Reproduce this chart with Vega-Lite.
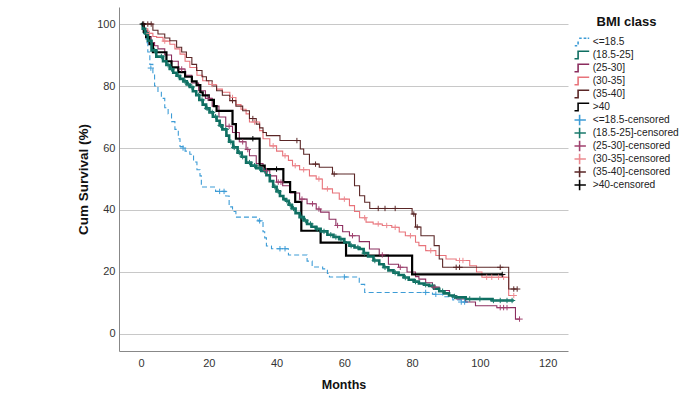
{
"$schema":"https://vega.github.io/schema/vega-lite/v6.json",
"width":449,"height":344,
"autosize":{"type":"none"},
"padding":{"left":119,"top":7,"right":122,"bottom":45},
"background":"white",
"config":{"view":{"stroke":null},"font":"Liberation Sans"},
"resolve":{"legend":{"color":"independent","shape":"independent"}},
"datasets":{
"lines":[
{"g":"<=18.5","m":0,"s":100},{"g":"<=18.5","m":0.8,"s":97},{"g":"<=18.5","m":1.5,"s":94},{"g":"<=18.5","m":2,"s":91},{"g":"<=18.5","m":2.6,"s":87},{"g":"<=18.5","m":3.5,"s":84},{"g":"<=18.5","m":4,"s":80},{"g":"<=18.5","m":5,"s":78},{"g":"<=18.5","m":6,"s":76},{"g":"<=18.5","m":7,"s":73},{"g":"<=18.5","m":8,"s":71},{"g":"<=18.5","m":9,"s":68.5},{"g":"<=18.5","m":10,"s":66},{"g":"<=18.5","m":11,"s":63},{"g":"<=18.5","m":11.5,"s":60.5},{"g":"<=18.5","m":13,"s":59},{"g":"<=18.5","m":14.4,"s":58},{"g":"<=18.5","m":15.5,"s":55.5},{"g":"<=18.5","m":16.5,"s":53},{"g":"<=18.5","m":17.4,"s":51},{"g":"<=18.5","m":17.8,"s":47.4},{"g":"<=18.5","m":22,"s":46},{"g":"<=18.5","m":25,"s":44.5},{"g":"<=18.5","m":26,"s":41},{"g":"<=18.5","m":27,"s":39.5},{"g":"<=18.5","m":28,"s":37.7},{"g":"<=18.5","m":34.5,"s":36.5},{"g":"<=18.5","m":36,"s":33},{"g":"<=18.5","m":36.5,"s":31},{"g":"<=18.5","m":37,"s":28.4},{"g":"<=18.5","m":38.5,"s":27.5},{"g":"<=18.5","m":43.5,"s":25.5},{"g":"<=18.5","m":49,"s":23.5},{"g":"<=18.5","m":50.5,"s":21.6},{"g":"<=18.5","m":53.6,"s":21},{"g":"<=18.5","m":55,"s":19.5},{"g":"<=18.5","m":55.6,"s":18.4},{"g":"<=18.5","m":64.4,"s":16},{"g":"<=18.5","m":66,"s":13.4},{"g":"<=18.5","m":86,"s":12.8},{"g":"<=18.5","m":89,"s":12},{"g":"<=18.5","m":92,"s":11},{"g":"<=18.5","m":94.5,"s":10.3},{"g":"<=18.5","m":97,"s":10.3},
{"g":"(18.5-25]","m":0,"s":100},{"g":"(18.5-25]","m":0.5,"s":98.5},{"g":"(18.5-25]","m":1.2,"s":97},{"g":"(18.5-25]","m":2,"s":94.6},{"g":"(18.5-25]","m":3.1,"s":91.5},{"g":"(18.5-25]","m":4.5,"s":89.5},{"g":"(18.5-25]","m":6.5,"s":88},{"g":"(18.5-25]","m":7.5,"s":86.8},{"g":"(18.5-25]","m":8.5,"s":85.5},{"g":"(18.5-25]","m":9.5,"s":84.3},{"g":"(18.5-25]","m":10.5,"s":83.3},{"g":"(18.5-25]","m":11.5,"s":82.3},{"g":"(18.5-25]","m":12.5,"s":81.5},{"g":"(18.5-25]","m":13.5,"s":80.5},{"g":"(18.5-25]","m":14.4,"s":79.7},{"g":"(18.5-25]","m":15.3,"s":78.3},{"g":"(18.5-25]","m":16.3,"s":77},{"g":"(18.5-25]","m":17.2,"s":75.5},{"g":"(18.5-25]","m":18.2,"s":74},{"g":"(18.5-25]","m":19.2,"s":72.8},{"g":"(18.5-25]","m":20.2,"s":71.5},{"g":"(18.5-25]","m":21.2,"s":70.1},{"g":"(18.5-25]","m":22.3,"s":68.8},{"g":"(18.5-25]","m":23.2,"s":67.3},{"g":"(18.5-25]","m":24,"s":66},{"g":"(18.5-25]","m":25.2,"s":64},{"g":"(18.5-25]","m":26,"s":62},{"g":"(18.5-25]","m":27.2,"s":60.2},{"g":"(18.5-25]","m":28.5,"s":58.5},{"g":"(18.5-25]","m":29.7,"s":57.2},{"g":"(18.5-25]","m":31,"s":55.3},{"g":"(18.5-25]","m":32.5,"s":54.3},{"g":"(18.5-25]","m":34,"s":53.5},{"g":"(18.5-25]","m":35.5,"s":52.6},{"g":"(18.5-25]","m":37,"s":51.2},{"g":"(18.5-25]","m":38,"s":49.3},{"g":"(18.5-25]","m":39,"s":47.5},{"g":"(18.5-25]","m":40,"s":46},{"g":"(18.5-25]","m":41,"s":44.5},{"g":"(18.5-25]","m":42,"s":43.5},{"g":"(18.5-25]","m":42.8,"s":43},{"g":"(18.5-25]","m":43.6,"s":41.7},{"g":"(18.5-25]","m":44.5,"s":40.5},{"g":"(18.5-25]","m":45.6,"s":39},{"g":"(18.5-25]","m":46.8,"s":37.7},{"g":"(18.5-25]","m":48,"s":36.6},{"g":"(18.5-25]","m":49,"s":35.5},{"g":"(18.5-25]","m":50.3,"s":34.6},{"g":"(18.5-25]","m":51.7,"s":33.9},{"g":"(18.5-25]","m":53,"s":33.1},{"g":"(18.5-25]","m":55,"s":32},{"g":"(18.5-25]","m":56.8,"s":31.3},{"g":"(18.5-25]","m":58.5,"s":30.6},{"g":"(18.5-25]","m":60,"s":29.5},{"g":"(18.5-25]","m":61.5,"s":28.5},{"g":"(18.5-25]","m":63,"s":27.9},{"g":"(18.5-25]","m":64.4,"s":27.4},{"g":"(18.5-25]","m":65.7,"s":26.1},{"g":"(18.5-25]","m":67,"s":25},{"g":"(18.5-25]","m":68.6,"s":23.7},{"g":"(18.5-25]","m":70.3,"s":22.5},{"g":"(18.5-25]","m":71.6,"s":21.5},{"g":"(18.5-25]","m":73,"s":20.5},{"g":"(18.5-25]","m":74.5,"s":19.8},{"g":"(18.5-25]","m":76,"s":19},{"g":"(18.5-25]","m":77.5,"s":18.2},{"g":"(18.5-25]","m":79,"s":17.5},{"g":"(18.5-25]","m":80.5,"s":16.9},{"g":"(18.5-25]","m":82,"s":16.3},{"g":"(18.5-25]","m":83.5,"s":15.9},{"g":"(18.5-25]","m":85,"s":15.5},{"g":"(18.5-25]","m":86.5,"s":14.6},{"g":"(18.5-25]","m":88,"s":13.8},{"g":"(18.5-25]","m":89.5,"s":13.1},{"g":"(18.5-25]","m":90.9,"s":12.4},{"g":"(18.5-25]","m":92,"s":12.1},{"g":"(18.5-25]","m":93,"s":11.8},{"g":"(18.5-25]","m":95.8,"s":11.3},{"g":"(18.5-25]","m":103.5,"s":10.8},{"g":"(18.5-25]","m":110,"s":10.8},
{"g":"(25-30]","m":0,"s":100},{"g":"(25-30]","m":1,"s":98},{"g":"(25-30]","m":2,"s":96},{"g":"(25-30]","m":3,"s":94},{"g":"(25-30]","m":4,"s":93},{"g":"(25-30]","m":5,"s":92},{"g":"(25-30]","m":7,"s":90},{"g":"(25-30]","m":9,"s":88},{"g":"(25-30]","m":11,"s":85.5},{"g":"(25-30]","m":13,"s":83.5},{"g":"(25-30]","m":15,"s":81},{"g":"(25-30]","m":17,"s":78.5},{"g":"(25-30]","m":19,"s":76},{"g":"(25-30]","m":21,"s":73.5},{"g":"(25-30]","m":23,"s":70},{"g":"(25-30]","m":25,"s":67},{"g":"(25-30]","m":27,"s":65},{"g":"(25-30]","m":29,"s":62},{"g":"(25-30]","m":31,"s":59.5},{"g":"(25-30]","m":32,"s":57.5},{"g":"(25-30]","m":34,"s":55},{"g":"(25-30]","m":36,"s":52.7},{"g":"(25-30]","m":38,"s":51},{"g":"(25-30]","m":40,"s":49},{"g":"(25-30]","m":41.8,"s":47.8},{"g":"(25-30]","m":44,"s":45.5},{"g":"(25-30]","m":46.8,"s":43.5},{"g":"(25-30]","m":49,"s":42},{"g":"(25-30]","m":51.7,"s":40.3},{"g":"(25-30]","m":53,"s":39.3},{"g":"(25-30]","m":55.5,"s":37},{"g":"(25-30]","m":57.5,"s":35},{"g":"(25-30]","m":59.5,"s":33},{"g":"(25-30]","m":61.5,"s":31.7},{"g":"(25-30]","m":64.4,"s":29.8},{"g":"(25-30]","m":67.4,"s":27.4},{"g":"(25-30]","m":70.3,"s":25.5},{"g":"(25-30]","m":73,"s":22.5},{"g":"(25-30]","m":76,"s":21.5},{"g":"(25-30]","m":78.5,"s":20},{"g":"(25-30]","m":81,"s":18.5},{"g":"(25-30]","m":82,"s":17.7},{"g":"(25-30]","m":84,"s":16.5},{"g":"(25-30]","m":86,"s":15.1},{"g":"(25-30]","m":88,"s":14},{"g":"(25-30]","m":91,"s":12.4},{"g":"(25-30]","m":93,"s":11.3},{"g":"(25-30]","m":95.8,"s":10.3},{"g":"(25-30]","m":98.7,"s":9.1},{"g":"(25-30]","m":105,"s":8.5},{"g":"(25-30]","m":110.5,"s":4.8},{"g":"(25-30]","m":111.7,"s":4.8},
{"g":"(30-35]","m":0,"s":100},{"g":"(30-35]","m":1,"s":98.5},{"g":"(30-35]","m":2,"s":97},{"g":"(30-35]","m":3.5,"s":96},{"g":"(30-35]","m":4.6,"s":95.7},{"g":"(30-35]","m":6.5,"s":94.5},{"g":"(30-35]","m":8.5,"s":93.5},{"g":"(30-35]","m":10,"s":92},{"g":"(30-35]","m":11.5,"s":90.3},{"g":"(30-35]","m":13,"s":88},{"g":"(30-35]","m":14.4,"s":86},{"g":"(30-35]","m":16.5,"s":83.5},{"g":"(30-35]","m":18.2,"s":81.7},{"g":"(30-35]","m":20,"s":80.5},{"g":"(30-35]","m":22.3,"s":79},{"g":"(30-35]","m":24,"s":78},{"g":"(30-35]","m":26.2,"s":76.3},{"g":"(30-35]","m":28,"s":74},{"g":"(30-35]","m":29.5,"s":72.5},{"g":"(30-35]","m":31,"s":71},{"g":"(30-35]","m":32,"s":68.4},{"g":"(30-35]","m":35,"s":65.6},{"g":"(30-35]","m":36,"s":63},{"g":"(30-35]","m":38,"s":60.7},{"g":"(30-35]","m":40,"s":59},{"g":"(30-35]","m":41.8,"s":57.5},{"g":"(30-35]","m":43.5,"s":56},{"g":"(30-35]","m":44.7,"s":54.3},{"g":"(30-35]","m":46.8,"s":53},{"g":"(30-35]","m":49.7,"s":51},{"g":"(30-35]","m":51.7,"s":50},{"g":"(30-35]","m":53.5,"s":46.8},{"g":"(30-35]","m":56.5,"s":45.5},{"g":"(30-35]","m":58.5,"s":43.5},{"g":"(30-35]","m":61.5,"s":41.4},{"g":"(30-35]","m":63,"s":39.5},{"g":"(30-35]","m":64.5,"s":37.5},{"g":"(30-35]","m":66.4,"s":36.1},{"g":"(30-35]","m":68.5,"s":35.5},{"g":"(30-35]","m":71.2,"s":35},{"g":"(30-35]","m":74,"s":34.4},{"g":"(30-35]","m":76.2,"s":32.9},{"g":"(30-35]","m":78,"s":31.7},{"g":"(30-35]","m":81,"s":29.6},{"g":"(30-35]","m":82,"s":28.5},{"g":"(30-35]","m":84,"s":26.9},{"g":"(30-35]","m":87,"s":25.3},{"g":"(30-35]","m":90,"s":24.2},{"g":"(30-35]","m":93,"s":23.7},{"g":"(30-35]","m":97,"s":22},{"g":"(30-35]","m":99,"s":20},{"g":"(30-35]","m":100.6,"s":18.3},{"g":"(30-35]","m":108.5,"s":12.4},{"g":"(30-35]","m":110,"s":12.4},
{"g":"(35-40]","m":0,"s":100},{"g":"(35-40]","m":3.5,"s":98},{"g":"(35-40]","m":5,"s":96.8},{"g":"(35-40]","m":7,"s":95.5},{"g":"(35-40]","m":8.5,"s":94.6},{"g":"(35-40]","m":10.5,"s":92.5},{"g":"(35-40]","m":12,"s":91},{"g":"(35-40]","m":13.4,"s":89.2},{"g":"(35-40]","m":15,"s":87},{"g":"(35-40]","m":16.4,"s":85},{"g":"(35-40]","m":18,"s":83},{"g":"(35-40]","m":19.3,"s":81.7},{"g":"(35-40]","m":21,"s":80},{"g":"(35-40]","m":22.3,"s":78.5},{"g":"(35-40]","m":24,"s":77},{"g":"(35-40]","m":26.2,"s":75.3},{"g":"(35-40]","m":28,"s":73.5},{"g":"(35-40]","m":30,"s":72},{"g":"(35-40]","m":32,"s":69.5},{"g":"(35-40]","m":34,"s":67.7},{"g":"(35-40]","m":35,"s":66.5},{"g":"(35-40]","m":36,"s":65},{"g":"(35-40]","m":37,"s":64},{"g":"(35-40]","m":41,"s":62.4},{"g":"(35-40]","m":47,"s":59.7},{"g":"(35-40]","m":48,"s":58},{"g":"(35-40]","m":49.7,"s":54.8},{"g":"(35-40]","m":52.6,"s":53.8},{"g":"(35-40]","m":56.5,"s":51.6},{"g":"(35-40]","m":63,"s":47.8},{"g":"(35-40]","m":64.5,"s":44.6},{"g":"(35-40]","m":66,"s":42.5},{"g":"(35-40]","m":67.5,"s":40.5},{"g":"(35-40]","m":80,"s":38.7},{"g":"(35-40]","m":81,"s":34.5},{"g":"(35-40]","m":82.6,"s":31.7},{"g":"(35-40]","m":86.5,"s":28.5},{"g":"(35-40]","m":88,"s":24.2},{"g":"(35-40]","m":89,"s":21.5},{"g":"(35-40]","m":108.5,"s":14.5},{"g":"(35-40]","m":110.5,"s":14.5},
{"g":">40","m":0,"s":100},{"g":">40","m":0.8,"s":97.5},{"g":">40","m":1.5,"s":95.8},{"g":">40","m":2.5,"s":93.5},{"g":">40","m":3.5,"s":90.9},{"g":">40","m":7.5,"s":88},{"g":">40","m":9,"s":86},{"g":">40","m":11,"s":84.5},{"g":">40","m":13,"s":83},{"g":">40","m":15,"s":81.5},{"g":">40","m":16.4,"s":80.3},{"g":">40","m":17.5,"s":78},{"g":">40","m":18.2,"s":77},{"g":">40","m":20,"s":75.5},{"g":">40","m":21.5,"s":73.5},{"g":">40","m":22.3,"s":72},{"g":">40","m":27,"s":67.7},{"g":">40","m":28,"s":63},{"g":">40","m":35,"s":54.3},{"g":">40","m":36.5,"s":53.2},{"g":">40","m":42,"s":49},{"g":">40","m":44,"s":45.8},{"g":">40","m":45.5,"s":42.6},{"g":">40","m":47.3,"s":33.3},{"g":">40","m":53,"s":29.5},{"g":">40","m":60.5,"s":25.3},{"g":">40","m":80,"s":19.2},{"g":">40","m":106.6,"s":19.2}
],
"cens":[
{"g":"<=18.5-censored","m":2.9,"s":85.8},{"g":"<=18.5-censored","m":12.4,"s":60},{"g":"<=18.5-censored","m":23.2,"s":46},{"g":"<=18.5-censored","m":24.5,"s":46},{"g":"<=18.5-censored","m":35,"s":36.5},{"g":"<=18.5-censored","m":41,"s":27.5},{"g":"<=18.5-censored","m":42.5,"s":27.5},{"g":"<=18.5-censored","m":60,"s":18.4},{"g":"<=18.5-censored","m":84,"s":13.4},{"g":"<=18.5-censored","m":87,"s":12.8},{"g":"<=18.5-censored","m":94.5,"s":10.3},{"g":"<=18.5-censored","m":95.5,"s":10.3},
{"g":"(18.5-25]-censored","m":1.5,"s":97},{"g":"(18.5-25]-censored","m":4,"s":91.5},{"g":"(18.5-25]-censored","m":6,"s":89.5},{"g":"(18.5-25]-censored","m":8,"s":86.8},{"g":"(18.5-25]-censored","m":9,"s":85.5},{"g":"(18.5-25]-censored","m":11,"s":83.3},{"g":"(18.5-25]-censored","m":13,"s":81.5},{"g":"(18.5-25]-censored","m":14,"s":80.5},{"g":"(18.5-25]-censored","m":15,"s":79.7},{"g":"(18.5-25]-censored","m":17,"s":77},{"g":"(18.5-25]-censored","m":18,"s":75.5},{"g":"(18.5-25]-censored","m":19.5,"s":72.8},{"g":"(18.5-25]-censored","m":21,"s":71.5},{"g":"(18.5-25]-censored","m":22,"s":70.1},{"g":"(18.5-25]-censored","m":23.5,"s":67.3},{"g":"(18.5-25]-censored","m":25,"s":66},{"g":"(18.5-25]-censored","m":26.5,"s":62},{"g":"(18.5-25]-censored","m":27.5,"s":60.2},{"g":"(18.5-25]-censored","m":29,"s":58.5},{"g":"(18.5-25]-censored","m":30,"s":57.2},{"g":"(18.5-25]-censored","m":32,"s":55.3},{"g":"(18.5-25]-censored","m":33.5,"s":54.3},{"g":"(18.5-25]-censored","m":35,"s":53.5},{"g":"(18.5-25]-censored","m":36.5,"s":52.6},{"g":"(18.5-25]-censored","m":39.5,"s":47.5},{"g":"(18.5-25]-censored","m":40.5,"s":46},{"g":"(18.5-25]-censored","m":43,"s":43},{"g":"(18.5-25]-censored","m":44,"s":41.7},{"g":"(18.5-25]-censored","m":45,"s":40.5},{"g":"(18.5-25]-censored","m":47.5,"s":37.7},{"g":"(18.5-25]-censored","m":48.5,"s":36.6},{"g":"(18.5-25]-censored","m":50,"s":35.5},{"g":"(18.5-25]-censored","m":52,"s":33.9},{"g":"(18.5-25]-censored","m":54,"s":33.1},{"g":"(18.5-25]-censored","m":56,"s":32},{"g":"(18.5-25]-censored","m":57.5,"s":31.3},{"g":"(18.5-25]-censored","m":59,"s":30.6},{"g":"(18.5-25]-censored","m":62,"s":28.5},{"g":"(18.5-25]-censored","m":64,"s":27.9},{"g":"(18.5-25]-censored","m":66,"s":26.1},{"g":"(18.5-25]-censored","m":69,"s":23.7},{"g":"(18.5-25]-censored","m":72,"s":21.5},{"g":"(18.5-25]-censored","m":75,"s":19.8},{"g":"(18.5-25]-censored","m":78,"s":18.2},{"g":"(18.5-25]-censored","m":81,"s":16.9},{"g":"(18.5-25]-censored","m":84,"s":15.9},{"g":"(18.5-25]-censored","m":86,"s":15.5},{"g":"(18.5-25]-censored","m":89,"s":13.8},{"g":"(18.5-25]-censored","m":92.5,"s":12.1},{"g":"(18.5-25]-censored","m":97,"s":11.3},{"g":"(18.5-25]-censored","m":100,"s":11.3},{"g":"(18.5-25]-censored","m":104,"s":10.8},{"g":"(18.5-25]-censored","m":106,"s":10.8},{"g":"(18.5-25]-censored","m":108,"s":10.8},{"g":"(18.5-25]-censored","m":109.5,"s":10.8},
{"g":"(25-30]-censored","m":12,"s":85.5},{"g":"(25-30]-censored","m":20,"s":76},{"g":"(25-30]-censored","m":26,"s":67},{"g":"(25-30]-censored","m":30,"s":62},{"g":"(25-30]-censored","m":31.5,"s":59.5},{"g":"(25-30]-censored","m":37,"s":52.7},{"g":"(25-30]-censored","m":40.5,"s":49},{"g":"(25-30]-censored","m":41.3,"s":49},{"g":"(25-30]-censored","m":47.5,"s":43.5},{"g":"(25-30]-censored","m":50.6,"s":42},{"g":"(25-30]-censored","m":52.5,"s":40.3},{"g":"(25-30]-censored","m":58,"s":35},{"g":"(25-30]-censored","m":62.4,"s":31.7},{"g":"(25-30]-censored","m":71.2,"s":25.5},{"g":"(25-30]-censored","m":76.5,"s":21.5},{"g":"(25-30]-censored","m":86.5,"s":15.1},{"g":"(25-30]-censored","m":106,"s":8.5},{"g":"(25-30]-censored","m":107,"s":8.5},{"g":"(25-30]-censored","m":108,"s":8.5},{"g":"(25-30]-censored","m":111.7,"s":4.8},
{"g":"(30-35]-censored","m":2.5,"s":97},{"g":"(30-35]-censored","m":7,"s":94.5},{"g":"(30-35]-censored","m":21,"s":80.5},{"g":"(30-35]-censored","m":27,"s":76.3},{"g":"(30-35]-censored","m":33.5,"s":68.4},{"g":"(30-35]-censored","m":39,"s":60.7},{"g":"(30-35]-censored","m":42.5,"s":57.5},{"g":"(30-35]-censored","m":45.5,"s":54.3},{"g":"(30-35]-censored","m":48,"s":53},{"g":"(30-35]-censored","m":52.5,"s":50},{"g":"(30-35]-censored","m":55,"s":46.8},{"g":"(30-35]-censored","m":60,"s":43.5},{"g":"(30-35]-censored","m":66,"s":37.5},{"g":"(30-35]-censored","m":70,"s":35.5},{"g":"(30-35]-censored","m":72.5,"s":35},{"g":"(30-35]-censored","m":75,"s":34.4},{"g":"(30-35]-censored","m":79.5,"s":31.7},{"g":"(30-35]-censored","m":85.5,"s":26.9},{"g":"(30-35]-censored","m":94,"s":23.7},{"g":"(30-35]-censored","m":95,"s":23.7},{"g":"(30-35]-censored","m":102,"s":18.3},{"g":"(30-35]-censored","m":103.5,"s":18.3},{"g":"(30-35]-censored","m":105.5,"s":18.3},{"g":"(30-35]-censored","m":107,"s":18.3},{"g":"(30-35]-censored","m":110,"s":12.4},
{"g":"(35-40]-censored","m":0.8,"s":100},{"g":"(35-40]-censored","m":2,"s":100},{"g":"(35-40]-censored","m":3,"s":100},{"g":"(35-40]-censored","m":27,"s":75.3},{"g":"(35-40]-censored","m":33,"s":69.5},{"g":"(35-40]-censored","m":46,"s":62.4},{"g":"(35-40]-censored","m":51.5,"s":54.8},{"g":"(35-40]-censored","m":57,"s":51.6},{"g":"(35-40]-censored","m":70,"s":40.5},{"g":"(35-40]-censored","m":72,"s":40.5},{"g":"(35-40]-censored","m":75,"s":40.5},{"g":"(35-40]-censored","m":80.5,"s":38.7},{"g":"(35-40]-censored","m":81.5,"s":34.5},{"g":"(35-40]-censored","m":93,"s":21.5},{"g":"(35-40]-censored","m":94,"s":21.5},{"g":"(35-40]-censored","m":106,"s":21.5},{"g":"(35-40]-censored","m":110,"s":14.5},{"g":"(35-40]-censored","m":111,"s":14.5},
{"g":">40-censored","m":0.5,"s":100},{"g":">40-censored","m":33,"s":63},{"g":">40-censored","m":40,"s":53.2},{"g":">40-censored","m":106.6,"s":19.2}
]},
"encoding":{
"x":{"field":"m","type":"quantitative","scale":{"domain":[-6.5,126],"nice":false,"zero":false},
 "axis":{"title":"Months","values":[0,20,40,60,80,100,120],"grid":false,"ticks":false,"tickSize":0,"domainColor":"#888888","labelPadding":6,"labelFont":"Liberation Sans","labelFontSize":11,"labelColor":"#333333","titleFont":"Liberation Sans","titleFontSize":12.5,"titleFontWeight":"bold","titleColor":"#111111","titlePadding":10}},
"y":{"field":"s","type":"quantitative","scale":{"domain":[-5.5,105.5],"nice":false,"zero":false},
 "axis":{"title":"Cum Survival (%)","values":[0,20,40,60,80,100],"grid":true,"gridColor":"#c8c8c8","gridWidth":1,"ticks":false,"tickSize":0,"domainColor":"#888888","labelPadding":4,"labelFont":"Liberation Sans","labelFontSize":11,"labelColor":"#333333","titleFont":"Liberation Sans","titleFontSize":13.5,"titleFontWeight":"bold","titleColor":"#111111","titleX":-29}}
},
"layer":[
{"data":{"name":"lines"},
 "mark":{"type":"line","interpolate":"step-after"},
 "encoding":{
  "color":{"field":"g","type":"nominal","legend":null,
   "scale":{"domain":["<=18.5","(18.5-25]","(25-30]","(30-35]","(35-40]",">40","<=18.5-censored","(18.5-25]-censored","(25-30]-censored","(30-35]-censored","(35-40]-censored",">40-censored"],
   "range":["#3d9cd6","#0e6e61","#8b2d5e","#e8737a","#5a2626","#000000","#3d9cd6","#1a7a6c","#a0406e","#ec8a90","#5a2626","#000000"]}},
  "strokeWidth":{"condition":{"test":"datum.g === '>40'","value":2.2},"value":1.1},
  "strokeDash":{"condition":{"test":"datum.g === '<=18.5'","value":[5,3]},"value":[1,0]}
 }},
{"data":{"name":"lines"},
 "transform":[{"filter":"datum.g === '(18.5-25]'"}],
 "mark":{"type":"line","interpolate":"step-after","strokeWidth":2.6,"color":"#0e6e61"},
 "encoding":{}},
{"data":{"name":"cens"},
 "mark":{"type":"point","filled":false,"size":9,"strokeWidth":1,"opacity":1},
 "encoding":{
  "color":{"field":"g","type":"nominal",
   "scale":{"domain":["<=18.5","(18.5-25]","(25-30]","(30-35]","(35-40]",">40","<=18.5-censored","(18.5-25]-censored","(25-30]-censored","(30-35]-censored","(35-40]-censored",">40-censored"],
   "range":["#3d9cd6","#0e6e61","#8b2d5e","#e8737a","#5a2626","#000000","#3d9cd6","#1a7a6c","#a0406e","#ec8a90","#5a2626","#000000"]},
   "legend":{"title":"BMI class","orient":"none","legendX":455.5,"legendY":9,"padding":0,"titleFont":"Liberation Sans","titleFontSize":13,"titleFontWeight":"bold","titleColor":"#111111","titleAnchor":"middle","titlePadding":7.5,"labelFont":"Liberation Sans","labelFontSize":10.2,"labelColor":"#222222","labelOffset":8,"symbolSize":36,"symbolStrokeWidth":1.6,"symbolOpacity":1,"rowPadding":2,"clipHeight":11}},
  "shape":{"field":"g","type":"nominal",
   "legend":{"title":"BMI class","orient":"none","legendX":455.5,"legendY":9,"padding":0,"titleFont":"Liberation Sans","titleFontSize":13,"titleFontWeight":"bold","titleColor":"#111111","titleAnchor":"middle","titlePadding":7.5,"labelFont":"Liberation Sans","labelFontSize":10.2,"labelColor":"#222222","labelOffset":8,"symbolSize":36,"symbolStrokeWidth":1.6,"symbolOpacity":1,"rowPadding":2,"clipHeight":11},
   "scale":{"domain":["<=18.5","(18.5-25]","(25-30]","(30-35]","(35-40]",">40","<=18.5-censored","(18.5-25]-censored","(25-30]-censored","(30-35]-censored","(35-40]-censored",">40-censored"],
   "range":["M-3.2,1.25H-2.3M-1.7,1.25H-0.8M-0.5,0.8V-0.15M-0.15,-1.25H0.7M1.35,-1.25H2.25M2.7,-1.25H3.2","M-3.2,1.25H-0.5V-1.25H3.2","M-3.2,1.25H-0.5V-1.25H3.2","M-3.2,1.25H-0.5V-1.25H3.2","M-3.2,1.25H-0.5V-1.25H3.2","M-3.2,1.25H-0.5V-1.25H3.2","M-2.1,0H2.1M0,-1.8V1.8","M-2.1,0H2.1M0,-1.8V1.8","M-2.1,0H2.1M0,-1.8V1.8","M-2.1,0H2.1M0,-1.8V1.8","M-2.1,0H2.1M0,-1.8V1.8","M-2.1,0H2.1M0,-1.8V1.8"]}}
 }}
]
}
